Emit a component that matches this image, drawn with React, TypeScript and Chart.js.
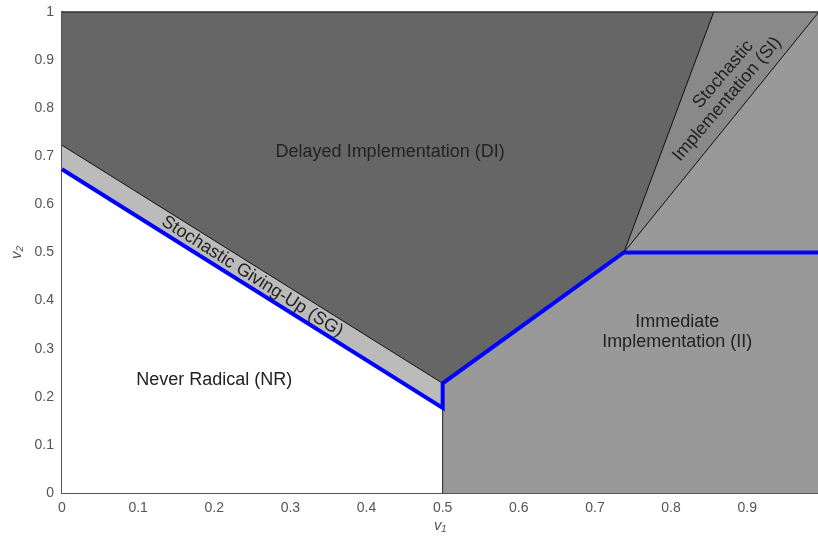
import React, { useEffect, useRef } from "react";
import { Chart, registerables } from "chart.js";

Chart.register(...registerables);

type P = [number, number];

// Region polygons (filled to the origin, painted back-to-front)
const DI_FILL: P[] = [[0, 1], [1, 1]];
const SI_FILL: P[] = [[0.5, 0], [0.5, 0.228], [0.738, 0.5], [0.856, 1], [1, 1]];
const II_FILL: P[] = [[0.5, 0], [0.5, 0.228], [0.738, 0.5], [0.994, 1], [1, 1]];
const SG_FILL: P[] = [[0, 0.723], [0.5, 0.228], [0.5, 0]];
const NR_FILL: P[] = [[0, 0.673], [0.5, 0.177], [0.5, 0]];

// Boundary lines
const SG_UPPER: P[] = [[0, 0.723], [0.5, 0.228]];
const SI_LEFT: P[] = [[0.738, 0.5], [0.856, 1]];
const SI_RIGHT: P[] = [[0.738, 0.5], [0.994, 1]];
const NR_II_EDGE: P[] = [[0.5, 0], [0.5, 0.177]];
const TOP_EDGE: P[] = [[0, 1], [1, 1]];
const BLUE_PATH: P[] = [[0, 0.673], [0.5, 0.177], [0.5, 0.228], [0.738, 0.5], [1, 0.5]];

const X_TICKS = [0, 0.1, 0.2, 0.3, 0.4, 0.5, 0.6, 0.7, 0.8, 0.9];
const Y_TICKS = [0, 0.1, 0.2, 0.3, 0.4, 0.5, 0.6, 0.7, 0.8, 0.9, 1];

const REGION_LABELS = [
  { lines: ["Delayed Implementation (DI)"], x: 0.431, y: 0.709, angle: 0 },
  { lines: ["Immediate", "Implementation (II)"], x: 0.808, y: 0.335, angle: 0 },
  { lines: ["Never Radical (NR)"], x: 0.2, y: 0.235, angle: 0 },
  { lines: ["Stochastic Giving-Up (SG)"], x: 0.25, y: 0.45, angle: 32.3 },
  { lines: ["Stochastic"], x: 0.8684, y: 0.87, angle: -49.5 },
  { lines: ["Implementation (SI)"], x: 0.8737, y: 0.819, angle: -49.5 },
];

const FONT = "'Liberation Sans', Arial, sans-serif";

const toPts = (a: P[]) => a.map(([x, y]) => ({ x, y }));

const fillSet = (data: P[], color: string, order: number) => ({
  data: toPts(data),
  showLine: true,
  borderWidth: 0,
  borderColor: color,
  backgroundColor: color,
  pointRadius: 0,
  fill: "origin",
  order,
});

const lineSet = (data: P[], color: string, width: number, order: number) => ({
  data: toPts(data),
  showLine: true,
  borderWidth: width,
  borderColor: color,
  backgroundColor: color,
  pointRadius: 0,
  fill: false,
  order,
  clip: 4,
  borderJoinStyle: "miter",
});

const labelPlugin = {
  id: "regionLabels",
  afterDatasetsDraw(chart: any) {
    const { ctx, scales, chartArea } = chart;
    const xs = scales.x;
    const ys = scales.y;
    ctx.save();
    ctx.beginPath();
    ctx.rect(chartArea.left, chartArea.top, chartArea.right - chartArea.left, chartArea.bottom - chartArea.top);
    ctx.clip();
    ctx.fillStyle = "#222";
    ctx.font = `18px ${FONT}`;
    ctx.textAlign = "center";
    ctx.textBaseline = "middle";
    const lh = 20.5;
    REGION_LABELS.forEach((l) => {
      const px = xs.getPixelForValue(l.x);
      const py = ys.getPixelForValue(l.y);
      ctx.save();
      ctx.translate(px, py);
      ctx.rotate((l.angle * Math.PI) / 180);
      const n = l.lines.length;
      l.lines.forEach((t, i) => {
        ctx.fillText(t, 0, (i - (n - 1) / 2) * lh);
      });
      ctx.restore();
    });
    ctx.restore();
  },
};

const fmt = (v: number) => String(Math.round(v * 10) / 10);

export default function App() {
  const ref = useRef<HTMLCanvasElement>(null);
  useEffect(() => {
    if (!ref.current) return;
    const chart = new Chart(ref.current, {
      type: "scatter",
      data: {
        datasets: [
          fillSet(DI_FILL, "#666666", 20),
          fillSet(SI_FILL, "#898989", 19),
          fillSet(II_FILL, "#999999", 18),
          fillSet(SG_FILL, "#bbbbbb", 17),
          fillSet(NR_FILL, "#ffffff", 16),
          lineSet(SG_UPPER, "#111", 1, 6),
          lineSet(SI_LEFT, "#111", 1, 5),
          lineSet(SI_RIGHT, "#111", 1, 4),
          lineSet(NR_II_EDGE, "#222", 1, 3),
          lineSet(TOP_EDGE, "#333", 1.5, 2),
          lineSet(BLUE_PATH, "#0000ff", 4, 1),
        ] as any,
      },
      options: {
        animation: false,
        responsive: false,
        devicePixelRatio: 1,
        layout: { padding: { top: 12, right: 0, left: 0, bottom: 0 } },
        plugins: { legend: { display: false }, tooltip: { enabled: false } },
        scales: {
          x: {
            type: "linear",
            min: 0,
            max: 0.993,
            z: 1,
            grid: { display: false, drawTicks: false },
            border: { color: "#555", width: 2 },
            afterBuildTicks: (s: any) => {
              s.ticks = X_TICKS.map((v) => ({ value: v }));
            },
            afterFit: (s: any) => {
              s.height = 45;
              s.paddingLeft = 0;
              s.paddingRight = 0;
            },
            ticks: { color: "#555", font: { family: FONT, size: 14 }, padding: 7, maxRotation: 0, callback: fmt },
            title: {
              display: true,
              text: "v₁",
              color: "#555",
              font: { family: FONT, size: 15, style: "italic" },
              padding: { top: 2, bottom: 3 },
            },
          },
          y: {
            type: "linear",
            min: 0,
            max: 1,
            z: 1,
            grid: { display: false, drawTicks: false },
            border: { color: "#555", width: 2 },
            afterBuildTicks: (s: any) => {
              s.ticks = Y_TICKS.map((v) => ({ value: v }));
            },
            afterFit: (s: any) => {
              s.width = 62;
              s.paddingTop = 0;
              s.paddingBottom = 0;
            },
            ticks: { color: "#555", font: { family: FONT, size: 14 }, padding: 8, callback: fmt },
            title: {
              display: true,
              text: "v₂",
              color: "#555",
              font: { family: FONT, size: 15, style: "italic" },
              padding: { top: 8, bottom: 0 },
            },
          },
        },
      } as any,
      plugins: [labelPlugin],
    });
    return () => chart.destroy();
  }, []);
  return (
    <div style={{ position: "absolute", left: 0, top: 0, width: 818, height: 538 }}>
      <canvas ref={ref} width={818} height={538} style={{ width: 818, height: 538 }} />
    </div>
  );
}
